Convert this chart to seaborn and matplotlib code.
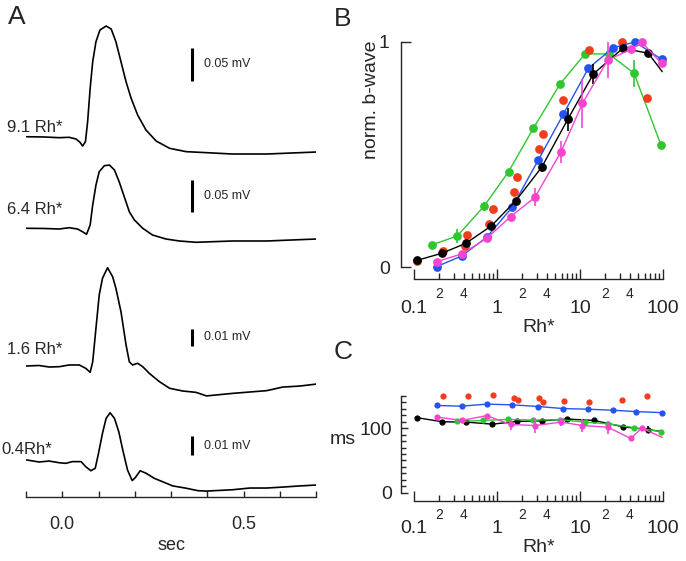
import matplotlib
matplotlib.use('Agg')
import matplotlib.pyplot as plt
import seaborn as sns
from matplotlib.ticker import FixedLocator, FixedFormatter

# ---- panel A: ERG traces, time (sec) and response (mV) ----
t_91 = [-0.099, -0.050, -0.008, 0.019, 0.038, 0.049, 0.056, 0.064, 0.070, 0.077, 0.084, 0.093,
        0.104, 0.121, 0.135, 0.148, 0.162, 0.176, 0.190, 0.208, 0.231, 0.259, 0.296, 0.342,
        0.379, 0.470, 0.564, 0.702]
v_91 = [0.0012, 0.0008, -0.0003, 0.0003, -0.0023, -0.0074, -0.0131, -0.0065, 0.0243, 0.0757,
        0.1166, 0.1474, 0.1654, 0.1715, 0.1669, 0.1474, 0.1166, 0.0858, 0.0603, 0.0346, 0.0115,
        -0.0054, -0.0166, -0.0218, -0.0228, -0.0254, -0.0254, -0.0223]

t_64 = [-0.099, -0.050, -0.008, 0.019, 0.042, 0.056, 0.067, 0.077, 0.084, 0.093, 0.102, 0.116,
        0.130, 0.144, 0.157, 0.171, 0.185, 0.199, 0.222, 0.249, 0.286, 0.323, 0.369, 0.470,
        0.564, 0.702]
v_64 = [0.0011, 0.0008, 0.0, 0.0020, 0.0, -0.0042, -0.0082, 0.0062, 0.0372, 0.0682, 0.0888,
        0.0981, 0.0992, 0.0915, 0.0733, 0.0501, 0.0268, 0.0140, 0.0011, -0.0093, -0.0155,
        -0.0186, -0.0206, -0.0186, -0.0186, -0.0155]

t_16 = [-0.099, -0.064, -0.036, -0.008, 0.019, 0.047, 0.065, 0.077, 0.084, 0.093, 0.102, 0.111,
        0.125, 0.139, 0.148, 0.162, 0.176, 0.185, 0.194, 0.208, 0.222, 0.240, 0.268, 0.296,
        0.332, 0.369, 0.398, 0.470, 0.517, 0.564, 0.608, 0.655, 0.702]
v_16 = [0.0, 0.0003, -0.0006, -0.0004, 0.0006, 0.0006, -0.0014, -0.0037, 0.0025, 0.0222, 0.0418,
        0.0516, 0.0578, 0.0525, 0.0457, 0.0319, 0.0124, 0.0025, 0.0006, 0.0016, -0.0004,
        -0.0043, -0.0092, -0.0131, -0.0147, -0.0155, -0.0176, -0.0161, -0.0153, -0.0145,
        -0.0124, -0.0118, -0.0106]

t_04 = [-0.099, -0.064, -0.036, -0.008, 0.010, 0.028, 0.052, 0.065, 0.079, 0.091, 0.100, 0.111,
        0.121, 0.132, 0.144, 0.156, 0.167, 0.180, 0.193, 0.202, 0.215, 0.231, 0.254, 0.277,
        0.305, 0.342, 0.374, 0.398, 0.470, 0.517, 0.564, 0.608, 0.655, 0.702]
v_04 = [0.0011, 0.0, 0.0005, -0.0004, -0.0007, 0.0002, 0.0002, -0.0025, -0.0046, -0.0033,
        0.0046, 0.0151, 0.0230, 0.0259, 0.0230, 0.0159, 0.0063, -0.0042, -0.0098, -0.0081,
        -0.0046, -0.0059, -0.0086, -0.0104, -0.0126, -0.0138, -0.0151, -0.0153, -0.0146,
        -0.0137, -0.0137, -0.0132, -0.0126, -0.0121]

trace_labels = ['9.1 Rh*', '6.4 Rh*', '1.6 Rh*', '0.4Rh*']
bar_values = [0.05, 0.05, 0.01, 0.01]
bar_labels = ['0.05 mV', '0.05 mV', '0.01 mV', '0.01 mV']

# ---- panel B: normalised b-wave vs Rh* ----
rh_green = [0.163, 0.333, 0.70, 1.38, 2.74, 5.74, 11.5, 22.3, 44.8, 94.6]
b_green = [0.098, 0.138, 0.271, 0.424, 0.616, 0.813, 0.947, 0.947, 0.861, 0.542]
e_green = [0.0, 0.03, 0.02, 0.01, 0.01, 0.015, 0.0, 0.0, 0.06, 0.0]

rh_red = [0.110, 0.222, 0.411, 0.439, 0.809, 0.887, 1.62, 1.76, 3.24, 3.55, 6.30, 12.9, 32.4, 63.6]
b_red = [0.028, 0.072, 0.093, 0.142, 0.190, 0.256, 0.335, 0.399, 0.523, 0.591, 0.742, 0.964,
         1.0, 0.750]

rh_blue = [0.188, 0.375, 0.751, 1.52, 3.15, 6.30, 12.6, 25.2, 46.0, 96.4]
b_blue = [0.002, 0.049, 0.132, 0.265, 0.476, 0.679, 0.883, 0.975, 1.0, 0.923]

rh_black = [0.110, 0.216, 0.42, 0.85, 1.69, 3.45, 7.11, 14.5, 32.7, 66.5, 98.0]
b_black = [0.030, 0.061, 0.105, 0.182, 0.295, 0.443, 0.656, 0.858, 0.972, 0.950, 0.868]
e_black = [0, 0, 0, 0, 0, 0.02, 0.05, 0.045, 0, 0, 0]

rh_mag = [0.188, 0.375, 0.751, 1.46, 2.87, 5.90, 10.7, 21.6, 40.8, 55.4, 96.0]
b_mag = [0.024, 0.058, 0.127, 0.224, 0.310, 0.512, 0.727, 0.920, 0.967, 0.999, 0.905]
e_mag = [0, 0, 0, 0, 0.04, 0.05, 0.11, 0.08, 0, 0, 0]

# ---- panel C: time to peak (ms) vs Rh* ----
rh_red_c = [0.221, 0.443, 0.903, 1.60, 1.77, 3.24, 3.61, 6.41, 12.9, 31.8, 63.6]
ms_red = [150.5, 150.5, 151.6, 147.4, 143.7, 146.3, 140, 142, 141, 143.7, 150.5]

rh_blue_c = [0.188, 0.375, 0.751, 1.52, 3.15, 6.30, 12.6, 25.2, 47.3, 96.4]
ms_blue = [135.3, 134.2, 137.4, 136.3, 133.7, 130.5, 129.5, 127.9, 125.8, 124.2]

rh_black_c = [0.110, 0.219, 0.424, 0.879, 1.73, 3.52, 7.03, 14.8, 33.3, 66.5, 98.0]
ms_black = [116.3, 110, 109.5, 106.3, 110.5, 111.6, 114.2, 112.1, 102.1, 97.9, 94.7]
e_black_c = [0, 0, 0, 0, 0, 0, 0, 0, 0, 5, 0]

rh_green_c = [0.333, 0.684, 1.37, 2.74, 5.74, 11.5, 21.9, 44.8, 94.6]
ms_green = [110.5, 112.1, 113.7, 112.6, 113.2, 109.5, 106.8, 101, 94.7]

rh_mag_c = [0.188, 0.375, 0.751, 1.46, 2.87, 5.90, 10.7, 21.6, 40.8, 55.4, 98.0]
ms_mag = [117.4, 112.1, 119.5, 105.8, 104.2, 109.5, 104.2, 101.6, 84.2, 100, 85.8]
e_mag_c = [0, 0, 0, 9, 11, 6, 10, 10, 0, 0, 0]

RED, GREEN, BLUE, MAG = '#f23c1e', '#2fc72f', '#2453f0', '#f545d0'

sns.set_style('ticks')
plt.rcParams['font.family'] = ['Liberation Sans', 'DejaVu Sans']

W, H = 686, 561
fig = plt.figure(figsize=(W / 100, H / 100), dpi=100)

# ---------------- panel A ----------------
axA = fig.add_axes([26 / W, 1 - 497 / H, 290 / W, 497 / H])
axA.set_xlim(-0.1, 0.7)
axA.set_ylim(0, 497)
bases = [137.5, 229, 366, 462]          # baseline rows (px from top)
gains = [650, 645, 1700, 1900]          # px per mV
traces = [(t_91, v_91), (t_64, v_64), (t_16, v_16), (t_04, v_04)]
label_rows = [128, 210, 350, 449]
bar_bottoms = [80.7, 212.3, 345.7, 455.3]
for (t, v), base, g in zip(traces, bases, gains):
    y = [497 - base + vi * g for vi in v]
    sns.lineplot(x=t, y=y, ax=axA, color='black', lw=1.2, sort=False, estimator=None)
for i in range(4):
    y0 = 497 - bar_bottoms[i]
    axA.plot([0.357, 0.357], [y0, y0 + bar_values[i] * gains[i]], color='black', lw=2.2,
             solid_capstyle='butt')
    axA.text(0.392, y0 + bar_values[i] * gains[i] / 2, bar_labels[i], fontsize=9, va='center')
    fig.text(7 / W if i < 3 else 1 / W, 1 - label_rows[i] / H, trace_labels[i], fontsize=12,
             va='center')
for s in ['left', 'right', 'top']:
    axA.spines[s].set_visible(False)
axA.spines['bottom'].set_linewidth(1.0)
axA.set_yticks([])
axA.xaxis.set_major_locator(FixedLocator([-0.1, 0, 0.1, 0.2, 0.3, 0.4, 0.5, 0.6, 0.7]))
axA.xaxis.set_major_formatter(FixedFormatter(['', '0.0', '', '', '', '', '0.5', '', '']))
axA.tick_params(axis='x', direction='in', length=4.5, width=1, labelsize=13, pad=14)
axA.set_xlabel('sec', fontsize=13)
axA.xaxis.set_label_coords(0.5, -48 / 497)
axA.xaxis.label.set_va('center')


def log_axis(ax, major_pad, minor_pad):
    ax.set_xscale('log')
    ax.set_xlim(0.1, 100)
    ax.xaxis.set_major_locator(FixedLocator([0.1, 1, 10, 100]))
    ax.xaxis.set_major_formatter(FixedFormatter(['0.1', '1', '10', '100']))
    mins, labs = [], []
    for d in (0.1, 1, 10):
        for m in range(2, 10):
            mins.append(m * d)
            labs.append(str(m) if m in (2, 4) else '')
    ax.xaxis.set_minor_locator(FixedLocator(mins))
    ax.xaxis.set_minor_formatter(FixedFormatter(labs))
    ax.tick_params(axis='x', which='major', direction='in', length=7, width=1,
                   labelsize=14, pad=major_pad)
    ax.tick_params(axis='x', which='minor', direction='in', length=4.3, width=1,
                   labelsize=10, pad=minor_pad)
    for s in ['right', 'top']:
        ax.spines[s].set_visible(False)
    for s in ['left', 'bottom']:
        ax.spines[s].set_linewidth(1.0)
    ax.spines['left'].set_position(('outward', 9.4))
    ax.spines['bottom'].set_bounds(0.1, 100)


def series(ax, x, y, color, ms, err=None, line=True, markevery=None):
    if err is not None:
        ax.errorbar(x, y, yerr=err, fmt='none', ecolor=color, elinewidth=1.2, capsize=0,
                    clip_on=False)
    if line:
        sns.lineplot(x=x, y=y, ax=ax, color=color, lw=1.0, sort=False, estimator=None,
                     marker='o', markersize=ms, markeredgewidth=0, markevery=markevery,
                     clip_on=False)
    else:
        ax.plot(x, y, 'o', color=color, markersize=ms, markeredgewidth=0, clip_on=False)


# ---------------- panel B ----------------
axB = fig.add_axes([414 / W, 1 - 267 / H, 249 / W, 225 / H])
log_axis(axB, 15, 5.8)
axB.set_ylim(0, 1)
axB.spines['bottom'].set_position(('outward', 8.6))
axB.spines['left'].set_bounds(0, 1)
axB.set_yticks([0, 1])
axB.set_yticklabels(['0', '1'])
axB.tick_params(axis='y', direction='in', length=7, width=1, labelsize=14, pad=8)
series(axB, rh_green, b_green, GREEN, 6.3, e_green)
series(axB, rh_red, b_red, RED, 6.3, line=False)
series(axB, rh_blue, b_blue, BLUE, 6.3)
series(axB, rh_black, b_black, 'black', 6.3, e_black, markevery=list(range(10)))
series(axB, rh_mag, b_mag, MAG, 6.3, e_mag)
axB.set_xlabel('Rh*', fontsize=14)
axB.xaxis.set_label_coords(0.5, -(328 - 267) / 225)
axB.xaxis.label.set_va('center')
axB.set_ylabel('norm. b-wave', fontsize=14)
axB.yaxis.set_label_coords(-0.17, (267 - 100) / 225)
axB.yaxis.label.set_va('center')

# ---------------- panel C ----------------
axC = fig.add_axes([414 / W, 1 - 492.7 / H, 249 / W, 96.7 / H])
log_axis(axC, 13.5, 5)
axC.set_ylim(0, 150)
axC.spines['bottom'].set_position(('outward', 5.8))
axC.spines['left'].set_bounds(0, 150)
axC.set_yticks([0, 100])
axC.set_yticklabels(['0', '100'])
axC.set_yticks(list(range(0, 151, 10)), minor=True)
axC.tick_params(axis='y', which='major', direction='in', length=5, width=1, labelsize=14, pad=6)
axC.tick_params(axis='y', which='minor', direction='in', length=3.5, width=1)
series(axC, rh_red_c, ms_red, RED, 4.5, line=False)
series(axC, rh_blue_c, ms_blue, BLUE, 4.5)
series(axC, rh_black_c, ms_black, 'black', 4.5, e_black_c, markevery=list(range(10)))
series(axC, rh_green_c, ms_green, GREEN, 4.5)
series(axC, rh_mag_c, ms_mag, MAG, 4.5, e_mag_c, markevery=list(range(10)))
axC.set_xlabel('Rh*', fontsize=14)
axC.xaxis.set_label_coords(0.5, -(548 - 492.7) / 96.7)
axC.xaxis.label.set_va('center')
axC.set_ylabel('')
fig.text(343 / W, 1 - 440 / H, 'ms', fontsize=14, ha='center', va='center')

# panel letters
fig.text(8 / W, 1 - 17.5 / H, 'A', fontsize=19, va='center')
fig.text(334 / W, 1 - 19 / H, 'B', fontsize=19, va='center')
fig.text(334 / W, 1 - 352 / H, 'C', fontsize=19, va='center')

fig.savefig('out.png', dpi=100)
